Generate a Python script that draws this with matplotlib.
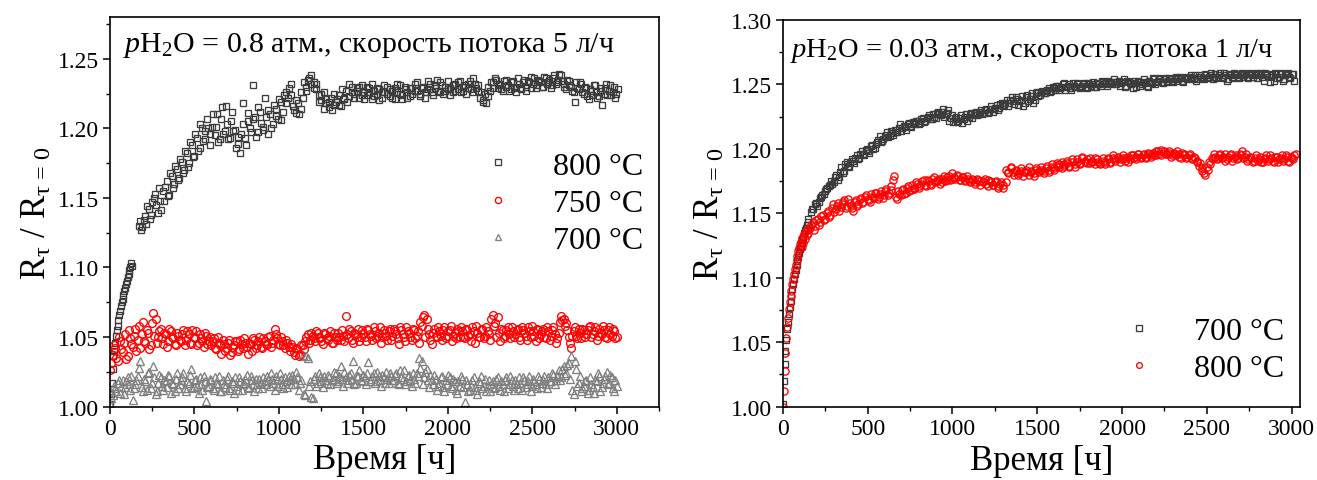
import numpy as np
import matplotlib
matplotlib.use("Agg")
import matplotlib.pyplot as plt
from matplotlib.ticker import MultipleLocator, FormatStrFormatter

plt.rcParams['font.family'] = ['Liberation Serif', 'DejaVu Serif']
plt.rcParams['mathtext.fontset'] = 'custom'
plt.rcParams['mathtext.rm'] = 'Liberation Serif'
plt.rcParams['mathtext.it'] = 'Liberation Serif:italic'

# ---------------- Left panel data (pH2O = 0.8 atm) ----------------
left_sq800_early = [1.002, 1.009, 1.017, 1.027, 1.036, 1.040, 1.046, 1.051, 1.055, 1.058,
                    1.062, 1.066, 1.069, 1.072, 1.075, 1.077, 1.080, 1.083, 1.085, 1.088,
                    1.090, 1.093, 1.095, 1.098, 1.100, 1.103, 1.101]
left_sq800_main = [1.130, 1.127, 1.134, 1.131, 1.142, 1.138, 1.150, 1.145, 1.157, 1.141,
                   1.148, 1.162, 1.152, 1.166, 1.160, 1.171, 1.164, 1.176, 1.170, 1.182,
                   1.175, 1.188, 1.180, 1.193, 1.186, 1.200, 1.198, 1.207, 1.196, 1.201,
                   1.195, 1.210, 1.192, 1.215, 1.198, 1.203, 1.193, 1.212, 1.199, 1.189,
                   1.182, 1.218, 1.193, 1.205, 1.200, 1.231, 1.208, 1.197, 1.212, 1.201,
                   1.222, 1.196, 1.210, 1.203, 1.214, 1.207, 1.219, 1.212, 1.226, 1.222,
                   1.232, 1.216, 1.211, 1.218, 1.214, 1.222, 1.230, 1.235, 1.238, 1.233,
                   1.228, 1.224, 1.220, 1.226, 1.218, 1.215, 1.222, 1.217, 1.219, 1.224,
                   1.216, 1.221, 1.227, 1.223, 1.230, 1.225, 1.229, 1.222, 1.231, 1.226,
                   1.224, 1.229, 1.221, 1.227, 1.224, 1.228, 1.222, 1.226, 1.230, 1.223,
                   1.227, 1.221, 1.226, 1.231, 1.224, 1.228, 1.222, 1.229, 1.225, 1.232,
                   1.227, 1.223, 1.230, 1.226, 1.234, 1.228, 1.224, 1.231, 1.227, 1.233,
                   1.225, 1.230, 1.228, 1.224, 1.231, 1.227, 1.233, 1.226, 1.230, 1.225,
                   1.232, 1.228, 1.236, 1.229, 1.231, 1.226, 1.220, 1.218, 1.223, 1.233,
                   1.229, 1.235, 1.231, 1.228, 1.234, 1.230, 1.227, 1.233, 1.229, 1.226,
                   1.232, 1.228, 1.235, 1.230, 1.233, 1.229, 1.236, 1.231, 1.234, 1.230,
                   1.237, 1.232, 1.235, 1.231, 1.238, 1.233, 1.239, 1.234, 1.230, 1.235,
                   1.231, 1.227, 1.219, 1.229, 1.233, 1.226, 1.230, 1.223, 1.228, 1.224,
                   1.231, 1.222, 1.227, 1.217, 1.229, 1.224, 1.231, 1.226, 1.222, 1.228]
left_sq800_main_b = [1.133, 1.129, 1.137, 1.144, 1.135, 1.147, 1.153, 1.139, 1.148, 1.155,
                     1.158, 1.151, 1.168, 1.157, 1.173, 1.163, 1.178, 1.168, 1.184, 1.172,
                     1.190, 1.179, 1.196, 1.184, 1.203, 1.191, 1.192, 1.200, 1.188, 1.210,
                     1.201, 1.190, 1.207, 1.196, 1.216, 1.192, 1.205, 1.198, 1.186, 1.194,
                     1.196, 1.203, 1.188, 1.211, 1.197, 1.207, 1.194, 1.215, 1.204, 1.199,
                     1.208, 1.213, 1.200, 1.217, 1.209, 1.221, 1.206, 1.224, 1.218, 1.229,
                     1.224, 1.213, 1.220, 1.210, 1.226, 1.233, 1.227, 1.236, 1.232, 1.229,
                     1.232, 1.219, 1.225, 1.214, 1.221, 1.219, 1.213, 1.225, 1.221, 1.217,
                     1.228, 1.222, 1.219, 1.232, 1.226, 1.222, 1.227, 1.230, 1.224, 1.221,
                     1.230, 1.226, 1.232, 1.223, 1.229, 1.220, 1.226, 1.231, 1.225, 1.228,
                     1.222, 1.229, 1.232, 1.225, 1.221, 1.230, 1.226, 1.223, 1.229, 1.227,
                     1.233, 1.225, 1.229, 1.222, 1.228, 1.232, 1.226, 1.229, 1.235, 1.226,
                     1.231, 1.227, 1.234, 1.229, 1.226, 1.232, 1.228, 1.234, 1.227, 1.231,
                     1.229, 1.234, 1.226, 1.232, 1.227, 1.222, 1.219, 1.225, 1.230, 1.227,
                     1.233, 1.236, 1.229, 1.232, 1.227, 1.235, 1.231, 1.228, 1.234, 1.230,
                     1.236, 1.229, 1.233, 1.227, 1.234, 1.237, 1.232, 1.229, 1.235, 1.233,
                     1.230, 1.236, 1.233, 1.229, 1.236, 1.232, 1.235, 1.238, 1.232, 1.228,
                     1.234, 1.230, 1.226, 1.233, 1.228, 1.232, 1.225, 1.229, 1.221, 1.227,
                     1.231, 1.226, 1.223, 1.229, 1.225, 1.232, 1.227, 1.224, 1.230, 1.225]
left_c750 = [1.026, 1.037, 1.042, 1.033, 1.047, 1.039, 1.052, 1.036, 1.049, 1.043,
             1.056, 1.048, 1.042, 1.061, 1.046, 1.053, 1.044, 1.067, 1.063, 1.050,
             1.056, 1.045, 1.052, 1.047, 1.054, 1.049, 1.044, 1.051, 1.047, 1.055,
             1.048, 1.052, 1.045, 1.050, 1.054, 1.046, 1.049, 1.043, 1.051, 1.047,
             1.044, 1.049, 1.041, 1.046, 1.038, 1.045, 1.042, 1.048, 1.039, 1.044,
             1.047, 1.041, 1.045, 1.049, 1.043, 1.046, 1.040, 1.048, 1.044, 1.050,
             1.042, 1.047, 1.044, 1.051, 1.046, 1.056, 1.049, 1.044, 1.047, 1.042,
             1.046, 1.040, 1.043, 1.037, 1.041, 1.038, 1.044, 1.047, 1.052, 1.048,
             1.051, 1.047, 1.053, 1.049, 1.045, 1.052, 1.048, 1.054, 1.046, 1.050,
             1.053, 1.048, 1.051, 1.065, 1.049, 1.054, 1.046, 1.052, 1.056, 1.050,
             1.053, 1.047, 1.055, 1.051, 1.057, 1.049, 1.053, 1.046, 1.055, 1.051,
             1.054, 1.048, 1.056, 1.052, 1.045, 1.055, 1.050, 1.057, 1.053, 1.048,
             1.055, 1.051, 1.046, 1.058, 1.066, 1.063, 1.052, 1.045, 1.056, 1.050,
             1.054, 1.048, 1.057, 1.051, 1.055, 1.047, 1.053, 1.056, 1.050, 1.054,
             1.049, 1.055, 1.052, 1.057, 1.046, 1.053, 1.050, 1.056, 1.051, 1.054,
             1.048, 1.066, 1.060, 1.064, 1.047, 1.055, 1.051, 1.057, 1.049, 1.054,
             1.052, 1.056, 1.048, 1.055, 1.051, 1.057, 1.050, 1.054, 1.047, 1.055,
             1.052, 1.056, 1.049, 1.054, 1.051, 1.057, 1.046, 1.053, 1.065, 1.063,
             1.060, 1.050, 1.042, 1.054, 1.051, 1.056, 1.049, 1.055, 1.052, 1.057,
             1.050, 1.054, 1.048, 1.056, 1.052, 1.055, 1.049, 1.057, 1.051, 1.054,
             1.050]
left_c750_b = [1.031, 1.044, 1.035, 1.050, 1.041, 1.046, 1.034, 1.055, 1.045, 1.051,
               1.040, 1.058, 1.052, 1.047, 1.055, 1.041, 1.060, 1.051, 1.046, 1.054,
               1.049, 1.053, 1.043, 1.056, 1.050, 1.045, 1.053, 1.048, 1.052, 1.044,
               1.054, 1.046, 1.055, 1.049, 1.044, 1.052, 1.047, 1.053, 1.045, 1.050,
               1.047, 1.042, 1.050, 1.044, 1.048, 1.040, 1.046, 1.037, 1.043, 1.047,
               1.040, 1.048, 1.042, 1.046, 1.038, 1.045, 1.049, 1.042, 1.047, 1.043,
               1.049, 1.045, 1.050, 1.043, 1.048, 1.052, 1.045, 1.050, 1.044, 1.048,
               1.043, 1.045, 1.039, 1.042, 1.036, 1.044, 1.041, 1.050, 1.046, 1.053,
               1.049, 1.054, 1.050, 1.047, 1.053, 1.049, 1.051, 1.046, 1.053, 1.048,
               1.050, 1.055, 1.047, 1.052, 1.056, 1.048, 1.053, 1.050, 1.047, 1.055,
               1.050, 1.056, 1.052, 1.048, 1.054, 1.051, 1.057, 1.050, 1.053, 1.048,
               1.056, 1.051, 1.054, 1.049, 1.057, 1.052, 1.047, 1.054, 1.050, 1.056,
               1.049, 1.054, 1.061, 1.064, 1.050, 1.056, 1.048, 1.053, 1.051, 1.057,
               1.051, 1.055, 1.049, 1.054, 1.058, 1.051, 1.049, 1.054, 1.057, 1.050,
               1.056, 1.051, 1.047, 1.054, 1.058, 1.050, 1.055, 1.049, 1.057, 1.052,
               1.063, 1.058, 1.050, 1.053, 1.056, 1.049, 1.055, 1.052, 1.057, 1.050,
               1.055, 1.050, 1.057, 1.053, 1.048, 1.054, 1.058, 1.051, 1.056, 1.049,
               1.054, 1.050, 1.057, 1.048, 1.055, 1.052, 1.049, 1.061, 1.062, 1.058,
               1.055, 1.046, 1.051, 1.057, 1.049, 1.053, 1.056, 1.050, 1.055, 1.058,
               1.052, 1.057, 1.051, 1.053, 1.058, 1.050, 1.055, 1.052, 1.056, 1.049]
left_t700 = [1.002, 1.008, 1.013, 1.017, 1.010, 1.019, 1.014, 1.021, 1.012, 1.005,
             1.016, 1.022, 1.033, 1.011, 1.018, 1.024, 1.013, 1.029, 1.009, 1.017,
             1.021, 1.012, 1.018, 1.023, 1.010, 1.016, 1.020, 1.013, 1.019, 1.024,
             1.011, 1.017, 1.027, 1.014, 1.020, 1.010, 1.016, 1.022, 1.004, 1.015,
             1.019, 1.012, 1.017, 1.022, 1.011, 1.016, 1.020, 1.013, 1.018, 1.010,
             1.015, 1.021, 1.012, 1.017, 1.023, 1.014, 1.019, 1.011, 1.016, 1.020,
             1.013, 1.018, 1.022, 1.015, 1.020, 1.012, 1.019, 1.024, 1.016, 1.021,
             1.014, 1.019, 1.023, 1.016, 1.021, 1.017, 1.037, 1.008, 1.035, 1.018,
             1.006, 1.022, 1.017, 1.021, 1.014, 1.019, 1.023, 1.016, 1.020, 1.024,
             1.018, 1.029, 1.015, 1.021, 1.019, 1.024, 1.033, 1.017, 1.022, 1.019,
             1.023, 1.016, 1.032, 1.020, 1.024, 1.018, 1.022, 1.015, 1.021, 1.025,
             1.017, 1.022, 1.019, 1.024, 1.016, 1.021, 1.026, 1.018, 1.023, 1.015,
             1.020, 1.024, 1.035, 1.033, 1.021, 1.027, 1.014, 1.019, 1.023, 1.012,
             1.017, 1.022, 1.011, 1.016, 1.021, 1.013, 1.018, 1.010, 1.015, 1.020,
             1.003, 1.016, 1.012, 1.019, 1.014, 1.009, 1.017, 1.013, 1.020, 1.015,
             1.011, 1.018, 1.014, 1.021, 1.012, 1.016, 1.019, 1.013, 1.022, 1.015,
             1.019, 1.013, 1.017, 1.021, 1.014, 1.018, 1.011, 1.020, 1.016, 1.022,
             1.014, 1.019, 1.016, 1.021, 1.018, 1.023, 1.019, 1.026, 1.021, 1.029,
             1.024, 1.031, 1.036, 1.009, 1.027, 1.017, 1.011, 1.015, 1.019, 1.012,
             1.016, 1.010, 1.018, 1.022, 1.014, 1.020, 1.025, 1.017, 1.021, 1.011,
             1.015]
left_t700_b = [1.006, 1.015, 1.011, 1.019, 1.014, 1.009, 1.018, 1.016, 1.022, 1.013,
               1.019, 1.028, 1.014, 1.020, 1.012, 1.025, 1.017, 1.021, 1.011, 1.023,
               1.015, 1.019, 1.014, 1.022, 1.017, 1.011, 1.024, 1.016, 1.021, 1.013,
               1.018, 1.023, 1.013, 1.019, 1.015, 1.021, 1.012, 1.018, 1.014, 1.020,
               1.013, 1.021, 1.016, 1.011, 1.019, 1.014, 1.022, 1.012, 1.017, 1.021,
               1.012, 1.018, 1.016, 1.020, 1.013, 1.022, 1.016, 1.020, 1.013, 1.017,
               1.021, 1.016, 1.019, 1.024, 1.017, 1.022, 1.015, 1.020, 1.013, 1.018,
               1.022, 1.016, 1.020, 1.025, 1.012, 1.019, 1.009, 1.036, 1.015, 1.007,
               1.020, 1.015, 1.024, 1.018, 1.022, 1.017, 1.021, 1.019, 1.025, 1.017,
               1.022, 1.020, 1.025, 1.017, 1.023, 1.020, 1.016, 1.022, 1.026, 1.018,
               1.021, 1.024, 1.018, 1.022, 1.017, 1.025, 1.019, 1.023, 1.017, 1.020,
               1.024, 1.019, 1.023, 1.017, 1.026, 1.020, 1.016, 1.022, 1.019, 1.024,
               1.017, 1.022, 1.028, 1.016, 1.025, 1.019, 1.023, 1.016, 1.020, 1.015,
               1.021, 1.014, 1.019, 1.023, 1.015, 1.020, 1.012, 1.018, 1.022, 1.014,
               1.019, 1.011, 1.015, 1.021, 1.012, 1.018, 1.022, 1.015, 1.011, 1.019,
               1.016, 1.013, 1.020, 1.015, 1.018, 1.011, 1.021, 1.016, 1.019, 1.012,
               1.016, 1.021, 1.012, 1.019, 1.016, 1.022, 1.015, 1.018, 1.013, 1.020,
               1.017, 1.022, 1.013, 1.018, 1.024, 1.016, 1.022, 1.019, 1.027, 1.023,
               1.030, 1.020, 1.012, 1.033, 1.015, 1.022, 1.013, 1.018, 1.010, 1.021,
               1.014, 1.019, 1.024, 1.011, 1.017, 1.022, 1.016, 1.023, 1.013, 1.019]

# ---------------- Right panel data (pH2O = 0.03 atm) ----------------
right_sq700_early = [1.002, 1.020, 1.033, 1.043, 1.052, 1.060, 1.066, 1.072, 1.077, 1.082,
                     1.087, 1.091, 1.095, 1.099, 1.103, 1.106, 1.110, 1.113, 1.116, 1.119,
                     1.122, 1.125, 1.127, 1.130, 1.132, 1.135, 1.137, 1.139, 1.141, 1.143,
                     1.146]
right_sq700_main = [1.151, 1.153, 1.158, 1.159, 1.163, 1.165, 1.169, 1.171, 1.175, 1.174,
                    1.180, 1.178, 1.186, 1.183, 1.190, 1.186, 1.192, 1.189, 1.195, 1.193,
                    1.198, 1.195, 1.200, 1.197, 1.203, 1.201, 1.205, 1.210, 1.206, 1.209,
                    1.213, 1.210, 1.212, 1.215, 1.213, 1.219, 1.216, 1.217, 1.219, 1.218,
                    1.221, 1.219, 1.222, 1.220, 1.224, 1.222, 1.225, 1.223, 1.227, 1.224,
                    1.229, 1.226, 1.231, 1.227, 1.230, 1.224, 1.221, 1.225, 1.222, 1.226,
                    1.223, 1.227, 1.225, 1.228, 1.226, 1.229, 1.227, 1.230, 1.228, 1.231,
                    1.229, 1.233, 1.231, 1.234, 1.232, 1.236, 1.234, 1.238, 1.236, 1.240,
                    1.235, 1.239, 1.237, 1.241, 1.236, 1.242, 1.239, 1.243, 1.238, 1.244,
                    1.242, 1.245, 1.243, 1.246, 1.244, 1.248, 1.246, 1.249, 1.247, 1.250,
                    1.246, 1.249, 1.247, 1.251, 1.248, 1.250, 1.247, 1.250, 1.248, 1.251,
                    1.249, 1.252, 1.248, 1.250, 1.249, 1.252, 1.250, 1.253, 1.251, 1.254,
                    1.250, 1.253, 1.251, 1.254, 1.249, 1.252, 1.250, 1.253, 1.248, 1.252,
                    1.250, 1.254, 1.249, 1.253, 1.251, 1.254, 1.252, 1.255, 1.252, 1.254,
                    1.252, 1.255, 1.253, 1.255, 1.253, 1.256, 1.253, 1.255, 1.254, 1.256,
                    1.254, 1.257, 1.254, 1.256, 1.255, 1.258, 1.255, 1.257, 1.254, 1.258,
                    1.256, 1.259, 1.255, 1.257, 1.254, 1.257, 1.255, 1.258, 1.256, 1.258,
                    1.256, 1.258, 1.255, 1.258, 1.256, 1.259, 1.257, 1.259, 1.253, 1.258,
                    1.256, 1.258, 1.253, 1.258, 1.256, 1.259, 1.254, 1.258, 1.256, 1.258,
                    1.253]
right_sq700_main_b = [1.153, 1.157, 1.156, 1.162, 1.164, 1.167, 1.170, 1.172, 1.173, 1.178,
                      1.176, 1.182, 1.181, 1.188, 1.187, 1.189, 1.191, 1.193, 1.192, 1.196,
                      1.196, 1.199, 1.198, 1.202, 1.200, 1.204, 1.207, 1.205, 1.208, 1.211,
                      1.209, 1.214, 1.211, 1.213, 1.216, 1.214, 1.218, 1.215, 1.220, 1.217,
                      1.220, 1.222, 1.219, 1.223, 1.221, 1.224, 1.226, 1.223, 1.225, 1.228,
                      1.227, 1.229, 1.225, 1.228, 1.222, 1.226, 1.223, 1.221, 1.224, 1.220,
                      1.225, 1.222, 1.227, 1.224, 1.228, 1.226, 1.229, 1.227, 1.230, 1.228,
                      1.231, 1.229, 1.232, 1.230, 1.235, 1.233, 1.236, 1.233, 1.238, 1.237,
                      1.240, 1.234, 1.238, 1.233, 1.240, 1.237, 1.241, 1.236, 1.243, 1.241,
                      1.244, 1.243, 1.245, 1.247, 1.245, 1.247, 1.249, 1.246, 1.248, 1.251,
                      1.248, 1.250, 1.246, 1.249, 1.251, 1.248, 1.249, 1.251, 1.247, 1.250,
                      1.250, 1.248, 1.251, 1.250, 1.253, 1.251, 1.249, 1.252, 1.250, 1.252,
                      1.252, 1.249, 1.252, 1.248, 1.253, 1.251, 1.247, 1.251, 1.253, 1.249,
                      1.252, 1.251, 1.248, 1.252, 1.255, 1.250, 1.253, 1.254, 1.251, 1.255,
                      1.253, 1.254, 1.252, 1.256, 1.254, 1.255, 1.252, 1.256, 1.255, 1.257,
                      1.255, 1.253, 1.257, 1.256, 1.254, 1.257, 1.256, 1.259, 1.256, 1.255,
                      1.257, 1.256, 1.259, 1.253, 1.258, 1.256, 1.259, 1.257, 1.255, 1.259,
                      1.257, 1.256, 1.259, 1.257, 1.258, 1.255, 1.258, 1.256, 1.259, 1.257,
                      1.252, 1.257, 1.259, 1.255, 1.258, 1.253, 1.257, 1.259, 1.255, 1.258]
right_c800_early = [1.000, 1.012, 1.028, 1.042, 1.053, 1.062, 1.069, 1.076, 1.081, 1.086,
                    1.090, 1.095, 1.099, 1.103, 1.107, 1.110, 1.114, 1.117, 1.121, 1.123,
                    1.126, 1.128, 1.124, 1.131, 1.127, 1.134, 1.130, 1.136, 1.133, 1.138,
                    1.135]
right_c800_main = [1.139, 1.143, 1.140, 1.146, 1.143, 1.149, 1.146, 1.152, 1.149, 1.157,
                   1.153, 1.158, 1.155, 1.159, 1.154, 1.161, 1.156, 1.152, 1.160, 1.157,
                   1.162, 1.159, 1.164, 1.160, 1.165, 1.162, 1.166, 1.163, 1.167, 1.164,
                   1.169, 1.166, 1.171, 1.179, 1.161, 1.165, 1.168, 1.165, 1.170, 1.167,
                   1.172, 1.169, 1.173, 1.171, 1.175, 1.172, 1.176, 1.173, 1.177, 1.174,
                   1.176, 1.173, 1.177, 1.175, 1.178, 1.176, 1.181, 1.177, 1.179, 1.176,
                   1.178, 1.175, 1.177, 1.174, 1.176, 1.173, 1.176, 1.172, 1.175, 1.173,
                   1.176, 1.174, 1.172, 1.175, 1.171, 1.174, 1.172, 1.184, 1.181, 1.185,
                   1.180, 1.184, 1.181, 1.185, 1.182, 1.184, 1.180, 1.183, 1.181, 1.185,
                   1.182, 1.186, 1.183, 1.187, 1.184, 1.188, 1.185, 1.189, 1.186, 1.190,
                   1.187, 1.191, 1.187, 1.190, 1.186, 1.192, 1.188, 1.194, 1.190, 1.192,
                   1.189, 1.191, 1.188, 1.192, 1.189, 1.191, 1.188, 1.193, 1.190, 1.195,
                   1.191, 1.194, 1.190, 1.193, 1.191, 1.194, 1.192, 1.195, 1.192, 1.196,
                   1.193, 1.195, 1.193, 1.197, 1.194, 1.197, 1.195, 1.198, 1.195, 1.198,
                   1.196, 1.197, 1.194, 1.197, 1.195, 1.196, 1.193, 1.196, 1.193, 1.195,
                   1.192, 1.194, 1.190, 1.187, 1.183, 1.181, 1.186, 1.190, 1.193, 1.196,
                   1.192, 1.195, 1.193, 1.196, 1.192, 1.195, 1.191, 1.194, 1.192, 1.196,
                   1.198, 1.194, 1.191, 1.194, 1.190, 1.193, 1.191, 1.194, 1.190, 1.193,
                   1.191, 1.195, 1.191, 1.194, 1.190, 1.193, 1.191, 1.195, 1.191, 1.194,
                   1.192, 1.196]
right_c800_main_b = [1.141, 1.137, 1.145, 1.141, 1.148, 1.145, 1.150, 1.147, 1.154, 1.151,
                     1.156, 1.152, 1.157, 1.160, 1.156, 1.158, 1.154, 1.159, 1.156, 1.161,
                     1.158, 1.163, 1.161, 1.159, 1.163, 1.166, 1.161, 1.165, 1.162, 1.167,
                     1.164, 1.168, 1.176, 1.163, 1.167, 1.164, 1.169, 1.166, 1.171, 1.168,
                     1.170, 1.174, 1.170, 1.173, 1.176, 1.171, 1.175, 1.172, 1.178, 1.175,
                     1.177, 1.174, 1.179, 1.176, 1.179, 1.177, 1.178, 1.180, 1.176, 1.178,
                     1.176, 1.179, 1.175, 1.177, 1.174, 1.177, 1.175, 1.174, 1.177, 1.171,
                     1.175, 1.172, 1.174, 1.170, 1.173, 1.170, 1.174, 1.182, 1.186, 1.182,
                     1.183, 1.180, 1.183, 1.179, 1.182, 1.186, 1.182, 1.179, 1.184, 1.183,
                     1.184, 1.181, 1.185, 1.182, 1.186, 1.184, 1.187, 1.188, 1.185, 1.188,
                     1.189, 1.186, 1.192, 1.188, 1.190, 1.189, 1.193, 1.191, 1.189, 1.193,
                     1.190, 1.193, 1.190, 1.188, 1.193, 1.190, 1.192, 1.189, 1.193, 1.192,
                     1.193, 1.192, 1.195, 1.193, 1.190, 1.195, 1.193, 1.194, 1.196, 1.194,
                     1.196, 1.194, 1.196, 1.195, 1.195, 1.198, 1.196, 1.199, 1.197, 1.196,
                     1.198, 1.195, 1.196, 1.198, 1.194, 1.197, 1.195, 1.194, 1.196, 1.193,
                     1.193, 1.191, 1.189, 1.185, 1.180, 1.184, 1.188, 1.192, 1.194, 1.193,
                     1.196, 1.194, 1.191, 1.194, 1.196, 1.193, 1.195, 1.193, 1.195, 1.193,
                     1.196, 1.192, 1.193, 1.191, 1.195, 1.192, 1.190, 1.192, 1.195, 1.192,
                     1.193, 1.190, 1.194, 1.192, 1.195, 1.192, 1.194, 1.190, 1.193, 1.195]

# sampling times [h]
t_left_sq_early = np.linspace(0, 130, len(left_sq800_early))
t_left_sq_main = np.linspace(170, 3005, len(left_sq800_main))
t_left_sq_main_b = np.linspace(177, 2998, len(left_sq800_main_b))
t_left_c = np.linspace(0, 3000, len(left_c750))
t_left_c_b = np.linspace(7, 2992, len(left_c750_b))
t_left_t = np.linspace(0, 3000, len(left_t700))
t_left_t_b = np.linspace(7, 2992, len(left_t700_b))
t_right_sq_early = np.linspace(0, 150, len(right_sq700_early))
t_right_sq_main = np.linspace(165, 3015, len(right_sq700_main))
t_right_sq_main_b = np.linspace(172, 3007, len(right_sq700_main_b))
t_right_c_early = np.linspace(0, 150, len(right_c800_early))
t_right_c_main = np.linspace(160, 3025, len(right_c800_main))
t_right_c_main_b = np.linspace(167, 3017, len(right_c800_main_b))

DARK = '#3c3c3c'
RED = '#ff0000'
GREY = '#808080'

fig = plt.figure(figsize=(13.17, 4.81), dpi=100)
ax1 = fig.add_axes([0.0835, 0.1528, 0.4169, 0.8098])
ax2 = fig.add_axes([0.5945, 0.1524, 0.3926, 0.8039])

kw = dict(linestyle='none', markerfacecolor='none', markeredgewidth=0.95)

# Left panel
ax1.plot(np.concatenate([t_left_sq_early, t_left_sq_main]),
         left_sq800_early + left_sq800_main, marker='s', ms=5.0,
         markeredgecolor=DARK, label='800 °C', **kw)
ax1.plot(t_left_c, left_c750, marker='o', ms=5.6, markeredgecolor=RED,
         label='750 °C', **kw)
ax1.plot(t_left_t, left_t700, marker='^', ms=6.0, markeredgecolor=GREY,
         label='700 °C', **kw)
ax1.plot(t_left_sq_main_b, left_sq800_main_b, marker='s', ms=5.0,
         markeredgecolor=DARK, **kw)
ax1.plot(t_left_c_b, left_c750_b, marker='o', ms=5.6, markeredgecolor=RED, **kw)
ax1.plot(t_left_t_b, left_t700_b, marker='^', ms=6.0, markeredgecolor=GREY, **kw)

# Right panel
ax2.plot(np.concatenate([t_right_sq_early, t_right_sq_main]),
         right_sq700_early + right_sq700_main, marker='s', ms=4.6,
         markeredgecolor=DARK, label='700 °C', **kw)
ax2.plot(np.concatenate([t_right_c_early, t_right_c_main]),
         right_c800_early + right_c800_main, marker='o', ms=5.2,
         markeredgecolor=RED, label='800 °C', **kw)
ax2.plot(t_right_sq_main_b, right_sq700_main_b, marker='s', ms=4.6,
         markeredgecolor=DARK, **kw)
ax2.plot(t_right_c_main_b, right_c800_main_b, marker='o', ms=5.2,
         markeredgecolor=RED, **kw)

for ax, xmax, ymax in ((ax1, 3250, 1.28), (ax2, 3050, 1.30)):
    ax.set_xlim(0, xmax)
    ax.set_ylim(1.0, ymax)
    ax.xaxis.set_major_locator(MultipleLocator(500))
    ax.xaxis.set_minor_locator(MultipleLocator(250))
    ax.yaxis.set_major_locator(MultipleLocator(0.05))
    ax.yaxis.set_minor_locator(MultipleLocator(0.025))
    ax.yaxis.set_major_formatter(FormatStrFormatter('%.2f'))
    ax.tick_params(which='major', direction='out', length=5, width=1.1,
                   labelsize=17, top=False, right=False, pad=3)
    ax.tick_params(which='minor', direction='out', length=3, width=1.0,
                   top=False, right=False)
    for s in ax.spines.values():
        s.set_linewidth(1.2)
    ax.set_ylabel(r'R$_{\mathrm{\tau}}$ / R$_{\mathrm{\tau\,=\,0}}$', fontsize=25,
                  labelpad=3)

ax1.set_xlabel('Время [ч]', fontsize=25, labelpad=3)
ax2.set_xlabel('Время [ч]', fontsize=25, labelpad=4)

ax1.text(0.024, 0.967, r'$p$H$_2$O = 0.8 атм., скорость потока 5 л/ч',
         transform=ax1.transAxes, fontsize=21.5, va='top', ha='left')
ax2.text(0.0135, 0.958, r'$p$H$_2$O = 0.03 атм., скорость потока 1 л/ч',
         transform=ax2.transAxes, fontsize=20.5, va='top', ha='left')

leg1 = ax1.legend(loc='center right', bbox_to_anchor=(1.0, 0.522), frameon=False,
                  fontsize=23, handletextpad=1.2, labelspacing=0.25,
                  markerscale=0.8, handlelength=1.0, borderaxespad=0.1)
leg2 = ax2.legend(loc='center right', bbox_to_anchor=(1.0, 0.147), frameon=False,
                  fontsize=23, handletextpad=1.2, labelspacing=0.25,
                  markerscale=0.8, handlelength=1.0, borderaxespad=0.1)

fig.savefig('out.png', dpi=100)
